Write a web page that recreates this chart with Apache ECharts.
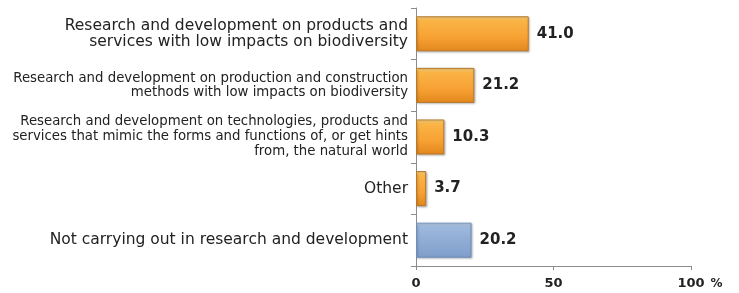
<!DOCTYPE html>
<html>
<head>
    <meta charset="utf-8">
    <title>R&D biodiversity</title>
    <script src="https://cdn.jsdelivr.net/npm/echarts@6/dist/echarts.min.js"></script>
    <style>
        html, body { margin: 0; padding: 0; background: #fff; }
        #chart1 { width: 739px; height: 293px; }
    </style>
</head>
<body>
<div id="chart1"></div>
<script type="text/javascript">

    // 类别与数值
    var categories = [
        'Research and development on products and\nservices with low impacts on biodiversity',
        'Research and development on production and construction\nmethods with low impacts on biodiversity',
        'Research and development on technologies, products and\nservices that mimic the forms and functions of, or get hints\nfrom, the natural world',
        'Other',
        'Not carrying out in research and development'
    ];
    var values = [41.0, 21.2, 10.3, 3.7, 20.2];
    var xTicks = [0, 50, 100];
    var blueIndex = 4;   // 未开展研发 -> 蓝色

    var orange = new echarts.graphic.LinearGradient(0, 0, 0, 1, [
        {offset: 0, color: '#fde08e'},
        {offset: 0.12, color: '#fbb446'},
        {offset: 0.6, color: '#f7a133'},
        {offset: 1, color: '#e2871e'}
    ]);
    var blue = new echarts.graphic.LinearGradient(0, 0, 0, 1, [
        {offset: 0, color: '#c3d5ec'},
        {offset: 0.12, color: '#9db8dc'},
        {offset: 1, color: '#7e9ecb'}
    ]);

    var barData = values.map(function (v, i) {
        return {
            value: v,
            itemStyle: i === blueIndex
                ? {color: blue, borderColor: '#6f8fbd'}
                : {color: orange, borderColor: '#b8792a'}
        };
    });

    var labelFont = 'DejaVu Sans';

    var myChart1 = echarts.init(document.getElementById('chart1'));

    myChart1.setOption({
        animation: false,
        grid: {left: 416, right: 48, top: 8, bottom: 27},
        xAxis: {
            type: 'value',
            min: xTicks[0],
            max: xTicks[xTicks.length - 1],
            interval: 50,
            name: '%',
            nameLocation: 'end',
            nameGap: 18,
            nameTextStyle: {
                fontFamily: 'DejaVu Sans', fontWeight: 'bold', fontSize: 12,
                color: '#222', verticalAlign: 'top', padding: [12, 0, 0, 0]
            },
            axisLine: {show: true, lineStyle: {color: '#8c8c8c', width: 1}},
            axisTick: {show: true, length: 4, lineStyle: {color: '#8c8c8c'}},
            splitLine: {show: false},
            axisLabel: {
                margin: 11,
                fontFamily: 'DejaVu Sans', fontWeight: 'bold', fontSize: 13, color: '#222'
            }
        },
        yAxis: {
            type: 'category',
            inverse: true,
            data: categories,
            axisLine: {show: true, lineStyle: {color: '#8c8c8c', width: 1}},
            axisTick: {show: true, length: 5, lineStyle: {color: '#8c8c8c'}},
            axisLabel: {
                margin: 8,
                formatter: function (val, idx) {
                    return val.split('\n').map(function (s) {
                        return '{s' + idx + '|' + s + '}';
                    }).join('\n');
                },
                rich: {
                    s0: {fontFamily: labelFont, fontSize: 15.5, lineHeight: 16, color: '#222', align: 'right'},
                    s1: {fontFamily: labelFont, fontSize: 13.3, lineHeight: 14, color: '#222', align: 'right'},
                    s2: {fontFamily: labelFont, fontSize: 13.3, lineHeight: 15, color: '#222', align: 'right'},
                    s3: {fontFamily: labelFont, fontSize: 15.5, lineHeight: 16, color: '#222', align: 'right'},
                    s4: {fontFamily: labelFont, fontSize: 15.5, lineHeight: 16, color: '#222', align: 'right'}
                }
            }
        },
        series: [{
            type: 'bar',
            data: barData,
            barWidth: '68%',
            itemStyle: {
                borderWidth: 1,
                shadowColor: 'rgba(0,0,0,0.25)',
                shadowBlur: 2,
                shadowOffsetX: 1,
                shadowOffsetY: 1
            },
            label: {
                show: true,
                position: 'right',
                distance: 8,
                fontFamily: 'DejaVu Sans',
                fontWeight: 'bold',
                fontSize: 15,
                color: '#222',
                formatter: function (p) { return p.value.toFixed(1); }
            }
        }]
    });
</script>
</body>
</html>
